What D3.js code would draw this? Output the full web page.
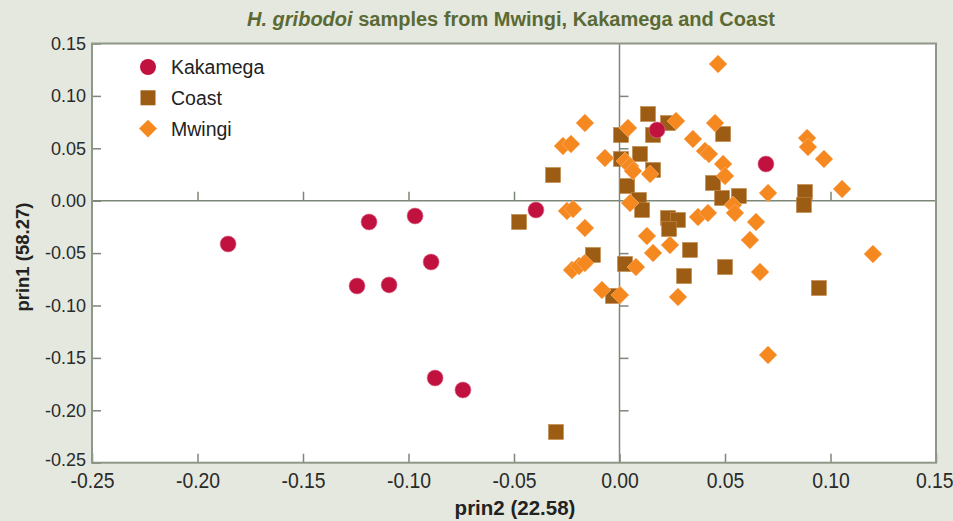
<!DOCTYPE html>
<html>
<head>
<meta charset="utf-8">
<script src="https://cdn.jsdelivr.net/npm/d3@7"></script>
<style>
  html, body { margin: 0; padding: 0; background: #e4e8de; }
  svg { display: block; }
  text { font-family: "Liberation Sans", Arial, sans-serif; }
</style>
</head>
<body>
<svg id="chart" width="953" height="521"></svg>
<script>
// PCA scores (prin2 on x, prin1 on y) per sampling site
const kakamegaX = [-0.1855, -0.1187, -0.0969, -0.1244, -0.1092, -0.0893, -0.0874, -0.0742, -0.0396, 0.0178, 0.0694];
const kakamegaY = [-0.0413, -0.0203, -0.0146, -0.0814, -0.0804, -0.0585, -0.1692, -0.1806, -0.0089, 0.0675, 0.0350];

const coastX = [-0.0476, -0.0315, -0.0301, -0.0126, -0.0031, 0.0026, 0.0036, 0.0092, 0.0107, 0.0007,
                0.0007, 0.0097, 0.0135, 0.0159, 0.0230, 0.0159, 0.0230, 0.0277, 0.0235, 0.0334,
                0.0306, 0.0491, 0.0443, 0.0486, 0.0566, 0.0500, 0.0879, 0.0874, 0.0945];
const coastY = [-0.0203, 0.0245, -0.2207, -0.0518, -0.0909, -0.0604, 0.0140, 0.0007, -0.0089, 0.0627,
                0.0398, 0.0446, 0.0827, 0.0627, 0.0741, 0.0293, -0.0165, -0.0184, -0.0270, -0.0470,
                -0.0719, 0.0636, 0.0169, 0.0026, 0.0045, -0.0633, 0.0083, -0.0041, -0.0833];

const mwingiX = [-0.0164, -0.0268, -0.0230, -0.0069, 0.0040, 0.0026, 0.0050, 0.0064, 0.0145, 0.0050,
                 -0.0249, -0.0220, -0.0164, 0.0130, 0.0159, 0.0239, -0.0225, -0.0192, -0.0164, 0.0078,
                 -0.0083, 0.0002, 0.0277, 0.0268, 0.0467, 0.0453, 0.0348, 0.0405, 0.0424, 0.0491,
                 0.0500, 0.0372, 0.0419, 0.0538, 0.0547, 0.0704, 0.0647, 0.0618, 0.0666, 0.0889,
                 0.0893, 0.0969, 0.1055, 0.1201, 0.0704];
const mwingiY = [0.0741, 0.0522, 0.0541, 0.0407, 0.0694, 0.0379, 0.0331, 0.0283, 0.0255, -0.0022,
                 -0.0098, -0.0079, -0.0260, -0.0337, -0.0499, -0.0423, -0.0661, -0.0623, -0.0594, -0.0633,
                 -0.0852, -0.0900, -0.0919, 0.0760, 0.1304, 0.0741, 0.0589, 0.0474, 0.0446, 0.0350,
                 0.0236, -0.0156, -0.0117, -0.0041, -0.0117, 0.0073, -0.0203, -0.0375, -0.0680, 0.0598,
                 0.0512, 0.0398, 0.0112, -0.0509, -0.1472];

const tickValues = [-0.25, -0.20, -0.15, -0.10, -0.05, 0.00, 0.05, 0.10, 0.15];
const seriesNames = ["Kakamega", "Coast", "Mwingi"];
const seriesColors = ["#c0113f", "#9c5c14", "#f5891f"];

const svg = d3.select("#chart");
const plotL = 92, plotR = 936, plotT = 43.5, plotB = 462.7;

const x = d3.scaleLinear().domain([-0.25, 0.15]).range([plotL, plotR]);
const y = d3.scaleLinear().domain([-0.25, 0.15]).range([plotB, plotT]);
// two decimals, plain hyphen for negatives
const fmt = v => d3.format(".2f")(v).replace("\u2212", "-");
const lineColor = "#7d8777";

// plot panel
svg.append("rect")
  .attr("x", plotL).attr("y", plotT)
  .attr("width", plotR - plotL).attr("height", plotB - plotT)
  .attr("fill", "#ffffff");

// crosshair through the origin
const cross = svg.append("g").attr("stroke", lineColor).attr("stroke-width", 1.5);
cross.append("line").attr("x1", plotL).attr("x2", plotR).attr("y1", y(0)).attr("y2", y(0));
cross.append("line").attr("x1", x(0)).attr("x2", x(0)).attr("y1", plotT).attr("y2", plotB);

const innerTicks = tickValues.filter(v => v !== 0 && v !== -0.25 && v !== 0.15);
svg.append("g")
  .attr("transform", `translate(0,${y(0)})`)
  .call(d3.axisTop(x).tickValues(innerTicks).tickSize(9).tickFormat(""))
  .call(g => g.select(".domain").remove())
  .call(g => g.selectAll(".tick line").attr("stroke", lineColor).attr("stroke-width", 1.5));
svg.append("g")
  .attr("transform", `translate(${x(0)},0)`)
  .call(d3.axisRight(y).tickValues(innerTicks).tickSize(9).tickFormat(""))
  .call(g => g.select(".domain").remove())
  .call(g => g.selectAll(".tick line").attr("stroke", lineColor).attr("stroke-width", 1.5));

// outer axes with inward ticks
const xAxis = svg.append("g")
  .attr("transform", `translate(0,${plotB})`)
  .call(d3.axisBottom(x).tickValues(tickValues).tickSize(-9).tickPadding(10).tickFormat(fmt));
const yAxis = svg.append("g")
  .attr("transform", `translate(${plotL},0)`)
  .call(d3.axisLeft(y).tickValues(tickValues).tickSize(-9).tickPadding(6).tickFormat(fmt));
[xAxis, yAxis].forEach(a => {
  a.select(".domain").remove();
  a.selectAll(".tick line").attr("stroke", lineColor).attr("stroke-width", 1.5);
  a.selectAll(".tick text").attr("fill", "#2a2a2a")
    .attr("font-family", "'Liberation Sans', Arial, sans-serif");
});
// bottom labels are set tall and slightly narrow
xAxis.selectAll(".tick text")
  .attr("font-size", 22)
  .attr("transform", "scale(0.88,1)")
  .attr("dx", (d, i, n) => i === n.length - 1 ? -2 : 0);
yAxis.selectAll(".tick text")
  .attr("font-size", 18)
  .attr("y", d => d === -0.25 ? -3 : 0);

// frame
svg.append("rect")
  .attr("x", plotL).attr("y", plotT)
  .attr("width", plotR - plotL).attr("height", plotB - plotT)
  .attr("fill", "none").attr("stroke", "#8f978a").attr("stroke-width", 2);

// markers
const marks = svg.append("g");
const sq = 15;
marks.selectAll("rect.coast")
  .data(d3.zip(coastX, coastY)).join("rect")
  .attr("class", "coast")
  .attr("x", d => x(d[0]) - sq / 2).attr("y", d => y(d[1]) - sq / 2)
  .attr("width", sq).attr("height", sq)
  .attr("fill", seriesColors[1]).attr("stroke", "#c08a4a").attr("stroke-width", 0.6);

const diamond = d3.symbol().type(d3.symbolSquare).size(160);
marks.selectAll("path.mwingi")
  .data(d3.zip(mwingiX, mwingiY)).join("path")
  .attr("class", "mwingi")
  .attr("d", diamond)
  .attr("transform", d => `translate(${x(d[0])},${y(d[1])}) rotate(45)`)
  .attr("fill", seriesColors[2]).attr("stroke", "#f9b070").attr("stroke-width", 0.6);

marks.selectAll("circle.kakamega")
  .data(d3.zip(kakamegaX, kakamegaY)).join("circle")
  .attr("class", "kakamega")
  .attr("cx", d => x(d[0])).attr("cy", d => y(d[1]))
  .attr("r", 8)
  .attr("fill", seriesColors[0]).attr("stroke", "#e07090").attr("stroke-width", 0.6);

// legend
const legend = svg.append("g").attr("transform", "translate(148,67)");
seriesNames.forEach((name, i) => {
  const g = legend.append("g").attr("transform", `translate(0,${i * 30.8})`);
  if (i === 0) g.append("circle").attr("r", 8).attr("fill", seriesColors[0]);
  if (i === 1) g.append("rect").attr("x", -7.5).attr("y", -7.5).attr("width", 15).attr("height", 15).attr("fill", seriesColors[1]);
  if (i === 2) g.append("path").attr("d", diamond).attr("transform", "rotate(45)").attr("fill", seriesColors[2]);
  g.append("text").attr("x", 23).attr("dy", "0.36em")
    .attr("font-size", 19.5).attr("fill", "#222").text(name);
});

// title
const title = svg.append("text")
  .attr("x", (plotL + plotR) / 2 - 3).attr("y", 26)
  .attr("text-anchor", "middle")
  .attr("font-size", 20).attr("font-weight", "bold").attr("fill", "#5b6a35");
title.append("tspan").attr("font-style", "italic").text("H. gribodoi");
title.append("tspan").text(" samples from Mwingi, Kakamega and Coast");

// axis titles
svg.append("text")
  .attr("x", (plotL + plotR) / 2 + 1).attr("y", 515)
  .attr("text-anchor", "middle")
  .attr("font-size", 20.5).attr("font-weight", "bold").attr("fill", "#222")
  .text("prin2 (22.58)");
svg.append("text")
  .attr("transform", `translate(29,${(plotT + plotB) / 2 + 4}) rotate(-90)`)
  .attr("text-anchor", "middle")
  .attr("font-size", 18.5).attr("font-weight", "bold").attr("fill", "#222")
  .text("prin1 (58.27)");
</script>
</body>
</html>
